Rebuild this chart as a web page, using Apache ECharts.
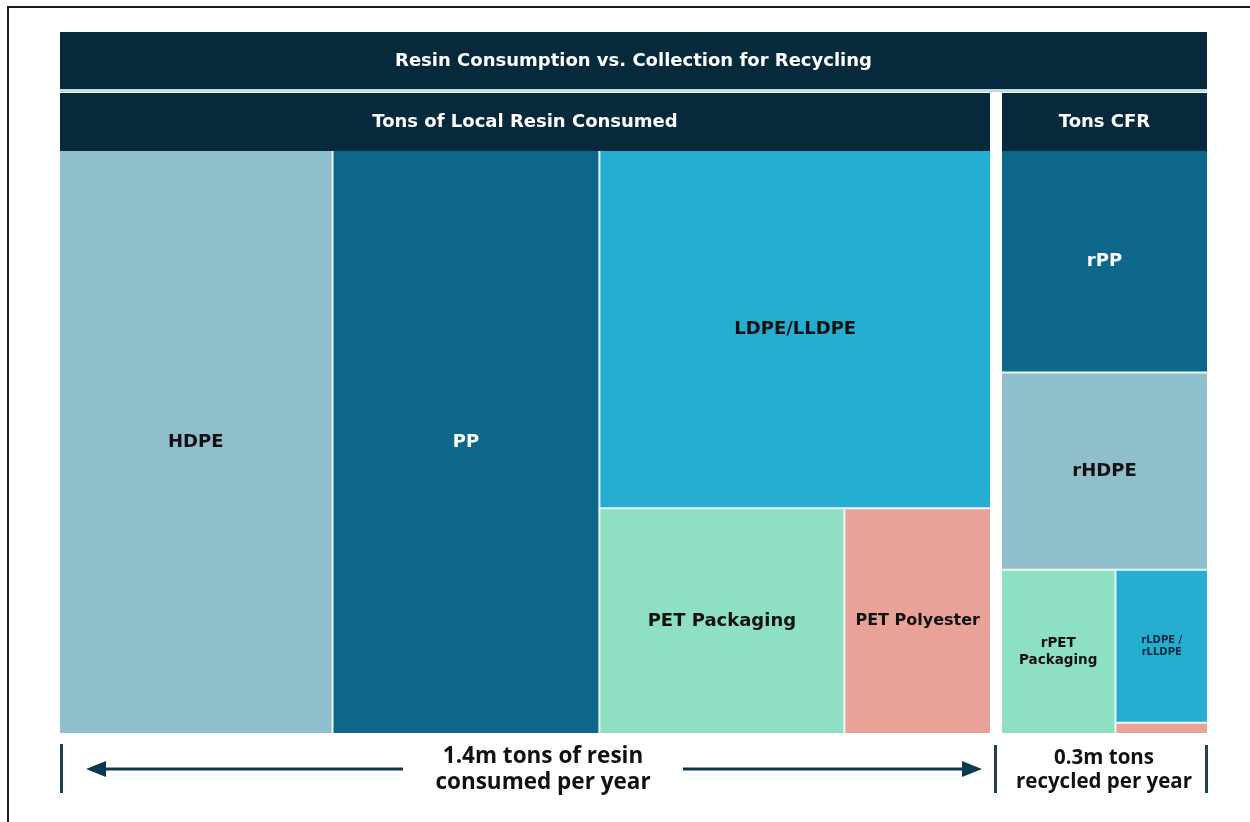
<!DOCTYPE html>
<html>
<head>
<meta charset="utf-8">
<script src="https://cdn.jsdelivr.net/npm/echarts@6/dist/echarts.min.js"></script>
<style>
html,body{margin:0;padding:0;background:#fff;}
#chart{width:1250px;height:822px;}
</style>
</head>
<body>
<div id="chart"></div>
<script>
// ---- data (million tons) ----
const consumedNames = ['HDPE', 'PP', 'LDPE/LLDPE', 'PET Packaging', 'PET Polyester'];
const consumedValues = [0.41, 0.40, 0.36, 0.142, 0.085];
const recycledNames = ['rPP', 'rHDPE', 'rPET\nPackaging', 'rLDPE /\nrLLDPE', 'rPET Polyester'];
const recycledValues = [0.114, 0.101, 0.0465, 0.035, 0.0026];
const headerTexts = ['Resin Consumption vs. Collection for Recycling', 'Tons of Local Resin Consumed', 'Tons CFR'];
const footerTexts = ['1.4m tons of resin\nconsumed per year', '0.3m tons\nrecycled per year'];

// ---- styles ----
const NAVY = '#062a3c';
const GAP = '#eef6f8';
const FONT = 'DejaVu Sans';
const consumedColors = ['#8fbfcd', '#0d678b', '#25aed1', '#8ee0c3', '#e9a297'];
const consumedLabelColors = ['#111', '#fff', '#111', '#111', '#111'];
const consumedLabelSizes = [18, 18, 18, 18, 16];
const recycledColors = ['#0d678b', '#8fbfcd', '#8ee0c3', '#25aed1', '#e9a297'];
const recycledLabelColors = ['#fff', '#111', '#111', '#0d2a3a', '#111'];
const recycledLabelSizes = [18, 18, 13.5, 10, 10];
const recycledLabelLH = [22, 22, 17, 12, 12];

function leaf(names, values, colors, lc, ls, lh, i) {
  return {
    name: names[i], value: values[i],
    itemStyle: { color: colors[i] },
    label: { show: i !== 4 || names === consumedNames, color: lc[i], fontSize: ls[i], lineHeight: lh ? lh[i] : ls[i] + 4 }
  };
}
function L(i) { return leaf(consumedNames, consumedValues, consumedColors, consumedLabelColors, consumedLabelSizes, null, i); }
function R(i) { return leaf(recycledNames, recycledValues, recycledColors, recycledLabelColors, recycledLabelSizes, recycledLabelLH, i); }

const consumedTree = [L(0), L(1), { name: 'LDPE + PET', children: [L(2), { name: 'PET', children: [L(3), L(4)] }] }];
const recycledTree = [R(0), R(1), { name: 'rPET + rLDPE', children: [R(2), { name: 'rLDPE group', children: [R(3), R(4)] }] }];

function header(text, children) {
  return {
    name: text,
    children: children,
    upperLabel: {
      show: true, height: 58, position: 'inside', padding: 0,
      backgroundColor: NAVY, color: '#fff', fontFamily: FONT, fontWeight: 'bold', fontSize: 18,
      align: 'center', verticalAlign: 'middle', formatter: '{b}'
    }
  };
}

function treemapSeries(left, width, data) {
  return {
    type: 'treemap', left: left, top: 93, width: width, height: 640,
    squareRatio: 0.1, sort: false, roam: false, nodeClick: false, silent: true,
    breadcrumb: { show: false },
    animation: false,
    itemStyle: { gapWidth: 2, borderWidth: 0, borderColor: GAP },
    upperLabel: { show: false },
    label: { show: true, position: 'inside', fontFamily: FONT, fontWeight: 'bold', fontSize: 18, overflow: 'truncate' },
    emphasis: { disabled: true },
    data: data
  };
}

const ARROW = '#0b3a50';
const BAR = '#22404f';

const option = {
  backgroundColor: '#fff',
  animation: false,
  series: [
    treemapSeries(60, 930, [header(headerTexts[1], consumedTree)]),
    treemapSeries(1002, 205, [header(headerTexts[2], recycledTree)])
  ],
  graphic: { elements: [
    { type: 'rect', silent: true, shape: { x: 8, y: 7, width: 1300, height: 900 }, style: { fill: 'none', stroke: '#1a1a1a', lineWidth: 2 } },
    { type: 'rect', silent: true, shape: { x: 60, y: 32, width: 1147, height: 57 }, style: { fill: NAVY } },
    { type: 'rect', silent: true, shape: { x: 60, y: 89, width: 1147, height: 3 }, style: { fill: '#c4dbe3' } },
    { type: 'text', silent: true, x: 633.5, y: 61, style: { text: headerTexts[0], fill: '#fff', font: 'bold 18px "DejaVu Sans"', textAlign: 'center', textVerticalAlign: 'middle' } },
    // bottom brackets
    { type: 'rect', silent: true, shape: { x: 60, y: 744, width: 3, height: 49 }, style: { fill: BAR } },
    { type: 'rect', silent: true, shape: { x: 994, y: 745, width: 3, height: 48 }, style: { fill: BAR } },
    { type: 'rect', silent: true, shape: { x: 1205, y: 745, width: 3, height: 48 }, style: { fill: BAR } },
    // arrows
    { type: 'line', silent: true, shape: { x1: 403, y1: 769, x2: 100, y2: 769 }, style: { stroke: ARROW, lineWidth: 3 } },
    { type: 'polygon', silent: true, shape: { points: [[86, 769], [106, 761], [106, 777]] }, style: { fill: ARROW } },
    { type: 'line', silent: true, shape: { x1: 683, y1: 769, x2: 966, y2: 769 }, style: { stroke: ARROW, lineWidth: 3 } },
    { type: 'polygon', silent: true, shape: { points: [[982, 769], [962, 761], [962, 777]] }, style: { fill: ARROW } },
    // footer texts
    { type: 'text', silent: true, x: 543, y: 770, style: { text: footerTexts[0], fill: '#111', font: 'bold 22.5px "Open Sans"', lineHeight: 26, textAlign: 'center', textVerticalAlign: 'middle' } },
    { type: 'text', silent: true, x: 1104, y: 770, style: { text: footerTexts[1], fill: '#111', font: 'bold 20.5px "Open Sans"', lineHeight: 24, textAlign: 'center', textVerticalAlign: 'middle' } }
  ] }
};

const chart = echarts.init(document.getElementById('chart'), null, { renderer: 'canvas' });
chart.setOption(option);
</script>
</body>
</html>
